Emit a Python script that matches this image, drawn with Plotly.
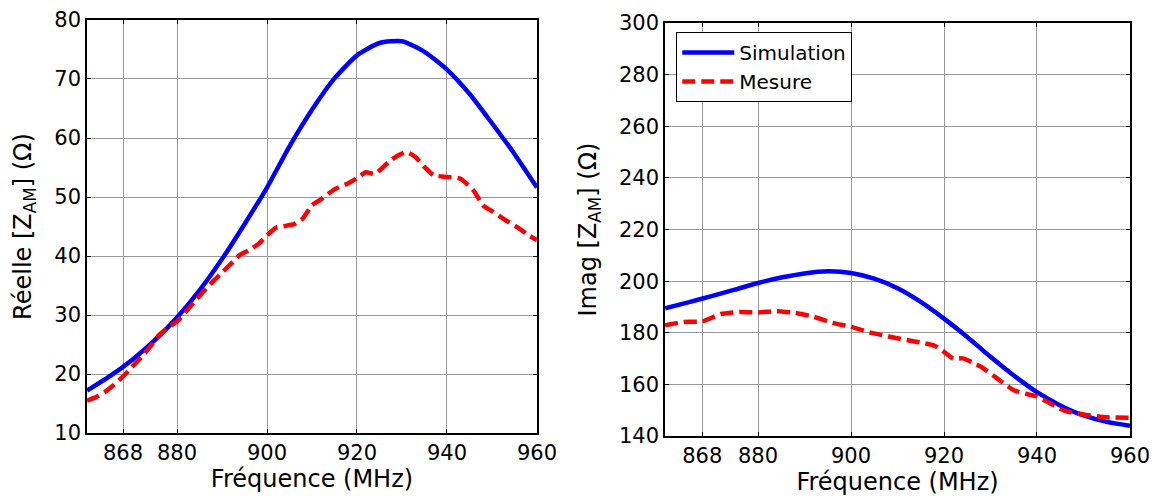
import plotly.graph_objects as go

# ---- Data ----
freq_re_sim = [860, 865, 870, 875, 880, 885, 890, 895, 900, 905, 910, 915, 920, 925, 930, 935, 940, 945, 950, 955, 960]
re_sim = [17.2, 19.6, 22.4, 25.7, 29.6, 34.2, 39.5, 45.4, 51.6, 58.6, 64.8, 70.1, 74.0, 76.1, 76.4, 74.6, 71.6, 67.5, 62.5, 57.3, 51.6]

freq_re_mes = [860, 862, 864, 866, 868, 870, 872, 874, 876, 878, 880, 882, 884, 886, 888, 890, 892, 894, 896, 898, 900, 902, 904, 906, 908, 910, 912, 915, 918, 920, 922, 924, 927, 929, 931, 933, 935, 937, 940, 943, 946, 948, 950, 953, 956, 958, 960]
re_mes = [15.5, 16.1, 17.0, 18.2, 19.6, 21.2, 22.8, 24.6, 26.6, 27.9, 28.9, 30.6, 32.4, 34.1, 35.7, 37.2, 38.7, 40.2, 41.0, 42.0, 43.5, 44.8, 45.1, 45.4, 46.4, 48.6, 49.6, 51.3, 52.3, 53.2, 54.2, 53.9, 55.9, 57.0, 57.6, 56.8, 55.1, 53.7, 53.4, 53.1, 51.0, 48.6, 47.6, 46.1, 44.7, 43.6, 42.7]

freq_im_sim = [860, 865, 870, 875, 880, 885, 890, 895, 900, 905, 910, 915, 920, 925, 930, 935, 940, 945, 950, 955, 960]
im_sim = [189.5, 191.8, 194.2, 196.7, 199.3, 201.4, 203.0, 203.8, 203.2, 201.0, 197.3, 192.0, 185.5, 178.4, 170.7, 163.5, 157.0, 151.9, 148.0, 145.5, 144.0]

freq_im_mes = [860, 864, 868, 872, 876, 880, 884, 888, 892, 896, 900, 904, 908, 912, 916, 918, 920, 922, 924, 926, 928, 932, 935, 938, 940, 943, 946, 950, 955, 960]
im_mes = [182.9, 184.2, 184.4, 187.3, 188.1, 187.9, 188.4, 187.7, 186.2, 183.9, 182.3, 180.2, 178.6, 177.2, 175.9, 175.0, 172.6, 170.0, 170.1, 168.7, 166.8, 161.6, 157.8, 156.2, 155.4, 152.5, 149.8, 148.4, 147.3, 147.1]

tick_vals = [868, 880, 900, 920, 940, 960]
tick_text = ["868", "880", "900", "920", "940", "960"]

BLUE = "#0000FF"
RED = "#FF0000"
FONT = "DejaVu Sans, Liberation Sans, Arial, sans-serif"
DASH = "13px,6px"

fig = go.Figure()
fig.add_trace(go.Scatter(x=freq_re_sim, y=re_sim, mode="lines", name="Simulation",
                         line=dict(color=BLUE, width=4.5, shape="spline", smoothing=0.6),
                         xaxis="x", yaxis="y", showlegend=False))
fig.add_trace(go.Scatter(x=freq_re_mes, y=re_mes, mode="lines", name="Mesure",
                         line=dict(color=RED, width=4.5, dash=DASH, shape="spline", smoothing=0.5),
                         xaxis="x", yaxis="y", showlegend=False))
fig.add_trace(go.Scatter(x=freq_im_sim, y=im_sim, mode="lines", name="Simulation",
                         line=dict(color=BLUE, width=4.5, shape="spline", smoothing=0.6),
                         xaxis="x2", yaxis="y2"))
fig.add_trace(go.Scatter(x=freq_im_mes, y=im_mes, mode="lines", name="Mesure",
                         line=dict(color=RED, width=4.5, dash=DASH, shape="spline", smoothing=0.5),
                         xaxis="x2", yaxis="y2"))

axis_common = dict(showline=True, linecolor="black", linewidth=1.5, mirror="ticks",
                   ticks="inside", ticklen=4, tickcolor="black", automargin=False,
                   showgrid=True, gridcolor="#9a9a9a", gridwidth=1, zeroline=False,
                   tickfont=dict(family=FONT, size=21, color="black"))

fig.update_layout(
    width=1156, height=499, autosize=False,
    margin=dict(l=0, r=0, t=0, b=0),
    paper_bgcolor="white", plot_bgcolor="white",
    font=dict(family=FONT, color="black"),
    xaxis=dict(domain=[0.0753, 0.4645], range=[860, 960], tickvals=tick_vals, ticktext=tick_text,
               anchor="y",
               title=dict(text="Fréquence (MHz)", font=dict(family=FONT, size=24), standoff=4),
               **axis_common),
    yaxis=dict(domain=[0.132, 0.96], range=[10, 80], dtick=10, anchor="x",
               title=dict(text="Réelle [Z<sub>AM</sub>] (Ω)", font=dict(family=FONT, size=24), standoff=16),
               **axis_common),
    xaxis2=dict(domain=[0.5753, 0.9775], range=[860, 960], tickvals=tick_vals, ticktext=tick_text,
                anchor="y2",
                title=dict(text="Fréquence (MHz)", font=dict(family=FONT, size=24), standoff=4),
                **axis_common),
    yaxis2=dict(domain=[0.126, 0.954], range=[140, 300], dtick=20, anchor="x2",
                title=dict(text="Imag [Z<sub>AM</sub>] (Ω)", font=dict(family=FONT, size=24), standoff=16),
                **axis_common),
    legend=dict(x=0.585, y=0.936, xanchor="left", yanchor="top",
                bgcolor="white", bordercolor="black", borderwidth=1,
                font=dict(family=FONT, size=20, color="black"),
                tracegroupgap=0, itemwidth=52),
)

fig.write_html("out.html", config={"responsive": False, "displayModeBar": False},
               post_script="document.body.style.margin='0';document.body.style.overflow='hidden';")
